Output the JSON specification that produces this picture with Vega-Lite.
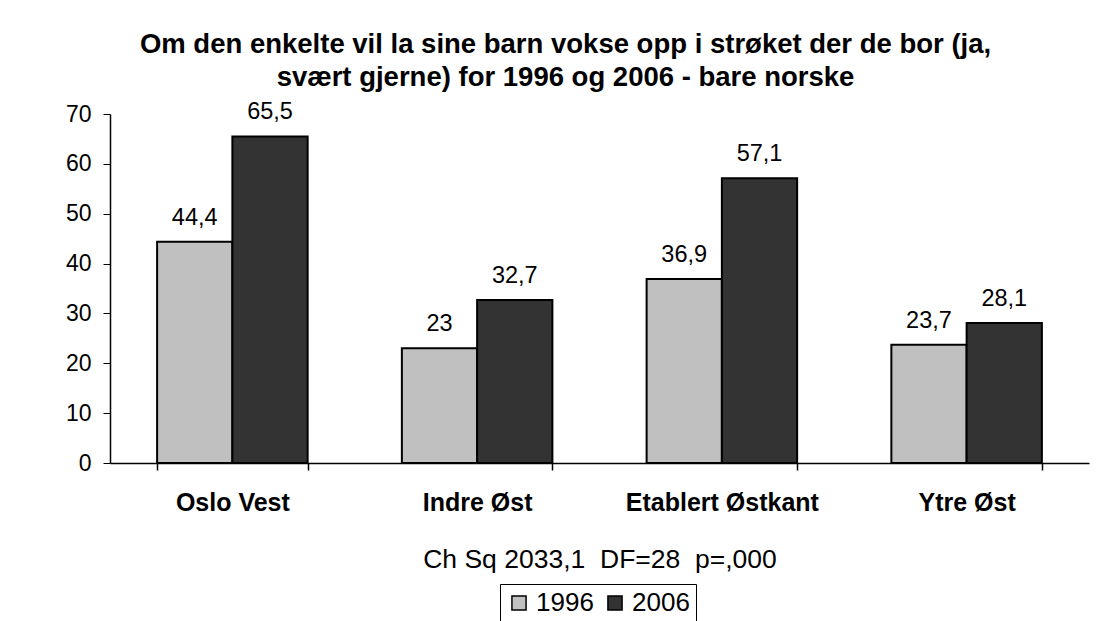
{
  "$schema": "https://vega.github.io/schema/vega-lite/v6.json",
  "autosize": "none",
  "width": 979,
  "height": 349,
  "padding": {"left": 110, "top": 114, "right": 31, "bottom": 158},
  "background": "white",
  "config": {
    "font": "Liberation Sans",
    "view": {"stroke": null},
    "locale": {"number": {"decimal": ",", "thousands": " ", "grouping": [3], "currency": ["", " kr"]}}
  },
  "title": {
    "text": ["Om den enkelte vil la sine barn vokse opp i strøket der de bor (ja,", "svært gjerne) for 1996 og 2006 - bare norske"],
    "fontSize": 27.5,
    "fontWeight": "bold",
    "color": "black",
    "anchor": "middle",
    "dx": -34,
    "offset": 9,
    "lineHeight": 33
  },
  "data": {
    "values": [
      {"område": "Oslo Vest", "år": "1996", "verdi": 44.4},
      {"område": "Oslo Vest", "år": "2006", "verdi": 65.5},
      {"område": "Indre Øst", "år": "1996", "verdi": 23},
      {"område": "Indre Øst", "år": "2006", "verdi": 32.7},
      {"område": "Etablert Østkant", "år": "1996", "verdi": 36.9},
      {"område": "Etablert Østkant", "år": "2006", "verdi": 57.1},
      {"område": "Ytre Øst", "år": "1996", "verdi": 23.7},
      {"område": "Ytre Øst", "år": "2006", "verdi": 28.1}
    ]
  },
  "encoding": {
    "x": {
      "field": "område",
      "type": "nominal",
      "sort": ["Oslo Vest", "Indre Øst", "Etablert Østkant", "Ytre Øst"],
      "scale": {"paddingInner": 0.385, "paddingOuter": 0.1925},
      "axis": {
        "title": "Ch Sq 2033,1\u00a0\u00a0DF=28\u00a0\u00a0p=,000",
        "titleFontSize": 26.5,
        "titleFontWeight": "normal",
        "titleColor": "black",
        "titlePadding": 31,
        "labelAngle": 0,
        "labelFontSize": 25,
        "labelFontWeight": "bold",
        "labelColor": "black",
        "labelPadding": 20,
        "labelLimit": 0,
        "tickBand": "extent",
        "tickSize": 7,
        "tickColor": "black",
        "domainColor": "black",
        "domainWidth": 1.5,
        "tickWidth": 1.5
      }
    },
    "xOffset": {"field": "år", "type": "nominal", "scale": {"paddingInner": 0, "paddingOuter": 0}},
    "y": {
      "field": "verdi",
      "type": "quantitative",
      "scale": {"domain": [0, 70]},
      "axis": {
        "title": null,
        "values": [0, 10, 20, 30, 40, 50, 60, 70],
        "grid": false,
        "labelFontSize": 23,
        "labelColor": "black",
        "labelPadding": 12,
        "tickSize": 7,
        "tickColor": "black",
        "domainColor": "black",
        "domainWidth": 1.5,
        "tickWidth": 1
      }
    }
  },
  "layer": [
    {
      "mark": {"type": "bar", "stroke": "black", "strokeWidth": 2},
      "encoding": {
        "fill": {
          "field": "år",
          "type": "nominal",
          "scale": {"domain": ["1996", "2006"], "range": ["#C0C0C0", "#333333"]},
          "legend": {
            "title": null,
            "orient": "none",
            "legendX": 390,
            "legendY": 470,
            "direction": "horizontal",
            "symbolType": "square",
            "symbolSize": 200,
            "symbolStrokeColor": "black",
            "symbolStrokeWidth": 1.5,
            "labelFontSize": 26,
            "labelColor": "black",
            "labelOffset": 4,
            "columnPadding": 8,
            "strokeColor": "black",
            "fillColor": "white",
            "padding": 6
          }
        }
      }
    },
    {
      "mark": {"type": "text", "baseline": "alphabetic", "dy": -17, "fontSize": 23.5, "color": "black"},
      "encoding": {
        "text": {"field": "verdi", "type": "quantitative", "format": ".1~f"}
      }
    }
  ]
}
